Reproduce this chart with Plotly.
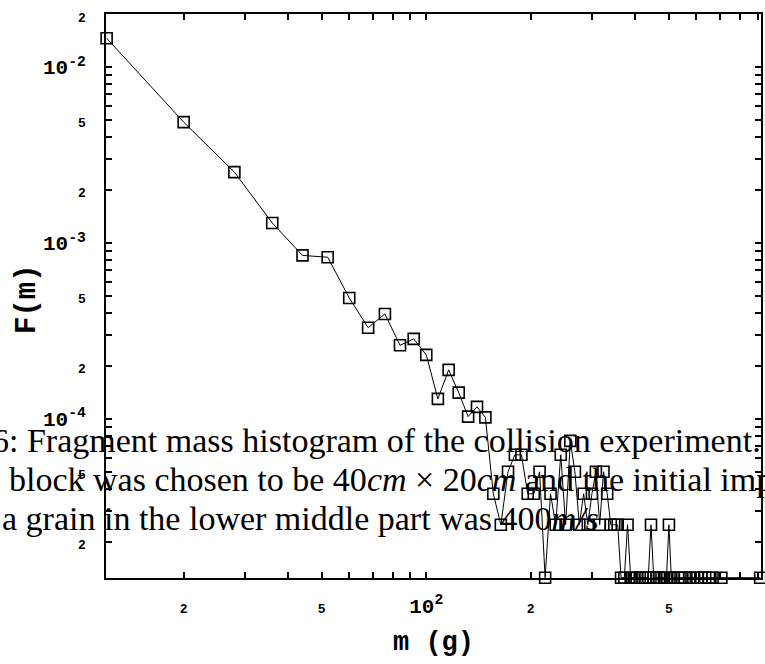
import plotly.graph_objects as go
import numpy as np

# fragment mass histogram (log-log)
mass = [12, 20, 28, 36, 44, 52, 60, 68, 76, 84, 92, 100, 108, 116, 124, 132, 140, 148,
        156, 164, 172, 180, 188, 196, 204, 212, 220, 228, 236, 244, 252, 260, 268, 276,
        284, 292, 300, 308, 316, 324, 332, 340, 348, 356, 364, 372, 380, 388, 396, 404,
        412, 420, 428, 436, 444, 452, 460, 468, 476, 484, 492, 500, 508, 516, 532, 540,
        556, 572, 588, 604, 620, 636, 652, 668, 708, 916]
F_m = [1.46e-2, 4.87e-3, 2.53e-3, 1.30e-3, 8.5e-4, 8.3e-4, 4.87e-4, 3.3e-4, 3.95e-4, 2.62e-4,
       2.85e-4, 2.31e-4, 1.30e-4, 1.90e-4, 1.41e-4, 1.03e-4, 1.17e-4, 1.02e-4,
       3.75e-5, 2.5e-5, 5.0e-5, 6.25e-5, 6.25e-5, 3.75e-5, 3.75e-5, 5.0e-5, 1.25e-5, 3.75e-5,
       2.5e-5, 6.25e-5, 2.5e-5, 7.5e-5, 5.0e-5, 2.5e-5, 3.75e-5, 2.5e-5, 3.75e-5, 5.0e-5,
       2.5e-5, 5.0e-5, 3.75e-5, 2.5e-5, 2.5e-5, 2.5e-5, 1.25e-5, 1.25e-5, 2.5e-5, 1.25e-5,
       1.25e-5, 1.25e-5, 1.25e-5, 1.25e-5, 1.25e-5, 1.25e-5, 2.5e-5, 1.25e-5, 1.25e-5,
       1.25e-5, 1.25e-5, 1.25e-5, 1.25e-5, 2.5e-5, 1.25e-5, 1.25e-5, 1.25e-5, 1.25e-5,
       1.25e-5, 1.25e-5, 1.25e-5, 1.25e-5, 1.25e-5, 1.25e-5, 1.25e-5, 1.25e-5, 1.25e-5,
       1.25e-5]

x_range = [11.95, 921]
y_range = [1.245e-5, 2.005e-2]

x_tickvals = [20, 50, 100, 200, 500]
x_ticktext = ["2", "5", "10<sup>2</sup>", "2", "5"]
x_minor = [30, 40, 60, 70, 80, 90, 300, 400, 600, 700, 800, 900]
x_decades = [100]

y_tickvals = [2e-5, 5e-5, 1e-4, 2e-4, 5e-4, 1e-3, 2e-3, 5e-3, 1e-2, 2e-2]
y_ticktext = ["2", "5", "10<sup>-4</sup>", "2", "5", "10<sup>-3</sup>", "2", "5",
              "10<sup>-2</sup>", "2"]
y_minor = [3e-5, 4e-5, 6e-5, 7e-5, 8e-5, 9e-5, 3e-4, 4e-4, 6e-4, 7e-4, 8e-4, 9e-4,
           3e-3, 4e-3, 6e-3, 7e-3, 8e-3, 9e-3]
y_decades = [1e-4, 1e-3, 1e-2]

caption = [
    "6: Fragment mass histogram of the collision experiment.",
    "block was chosen to be 40<i>cm</i> × 20<i>cm</i> and the initial impact",
    "a grain in the lower middle part was 400<i>m/s</i>",
]

MONO = "Liberation Mono"
SERIF = "Liberation Serif"


def small(t):
    if t.startswith("10"):
        return t
    return f"<span style='font-size:13px'>{t}</span>"


L, R, T, B = 106, 4, 14, 86
W, H = 765, 664

fig = go.Figure()
fig.add_trace(go.Scatter(
    x=mass, y=F_m, mode="lines+markers",
    line=dict(color="black", width=1),
    marker=dict(symbol="square-open", size=11, color="black", line=dict(width=1.6)),
    cliponaxis=False, showlegend=False,
))

axis_common = dict(
    type="log", showgrid=False, zeroline=False, showline=True, linecolor="black",
    linewidth=2, mirror="allticks", ticks="inside", ticklen=6, tickwidth=2,
    tickcolor="black", automargin=False,
    tickfont=dict(family=MONO, size=21, color="black", weight="bold"),
)

fig.update_xaxes(
    **axis_common, range=[np.log10(x_range[0]), np.log10(x_range[1])],
    tickmode="array", tickvals=x_tickvals, ticktext=[small(t) for t in x_ticktext],
    ticklabelstandoff=8,
    minor=dict(tickvals=x_minor, ticks="inside", ticklen=6, tickwidth=2, tickcolor="black"),
)
fig.update_yaxes(
    **axis_common, range=[np.log10(y_range[0]), np.log10(y_range[1])],
    tickmode="array", tickvals=y_tickvals, ticktext=[small(t) for t in y_ticktext],
    ticklabelstandoff=14,
    minor=dict(tickvals=y_minor, ticks="inside", ticklen=6, tickwidth=2, tickcolor="black"),
)

# long ticks at the decades
fig.update_layout(
    xaxis2=dict(type="log", overlaying="x", anchor="y", side="bottom", automargin=False,
                range=[np.log10(x_range[0]), np.log10(x_range[1])],
                tickmode="array", tickvals=x_decades, showticklabels=False,
                ticks="inside", ticklen=12, tickwidth=2, tickcolor="black",
                showgrid=False, zeroline=False, showline=False, mirror="allticks"),
    yaxis2=dict(type="log", overlaying="y", anchor="x", side="left", automargin=False,
                range=[np.log10(y_range[0]), np.log10(y_range[1])],
                tickmode="array", tickvals=y_decades, showticklabels=False,
                ticks="inside", ticklen=12, tickwidth=2, tickcolor="black",
                showgrid=False, zeroline=False, showline=False, mirror="allticks"),
)

annotations = [
    dict(text="F(m)", x=0, y=0, xref="paper", yref="paper", xanchor="center", yanchor="middle",
         xshift=27 - L, yshift=(H - B) - 299, textangle=-90, showarrow=False,
         font=dict(family=MONO, size=29, color="black", weight="bold")),
    dict(text="m (g)", x=0, y=0, xref="paper", yref="paper", xanchor="center", yanchor="middle",
         xshift=433 - L, yshift=(H - B) - 643, showarrow=False,
         font=dict(family=MONO, size=27, color="black", weight="bold")),
]
cap_pos = [(-10, 440), (7, 479), (0, 518)]
for line, (px, py) in zip(caption, cap_pos):
    annotations.append(dict(
        text=line, x=0, y=0, xref="paper", yref="paper", xanchor="left", yanchor="middle",
        xshift=px - L, yshift=(H - B) - py, showarrow=False,
        font=dict(family=SERIF, size=34, color="black"),
    ))

fig.update_layout(
    template="none",
    width=W, height=H, margin=dict(l=L, r=R, t=T, b=B),
    paper_bgcolor="white", plot_bgcolor="white",
    annotations=annotations,
)

# page body has a default 8px margin; drop it so the figure fills the window
fig.write_html("out.html", config={"displayModeBar": False},
               post_script="document.body.style.margin='0px';")
